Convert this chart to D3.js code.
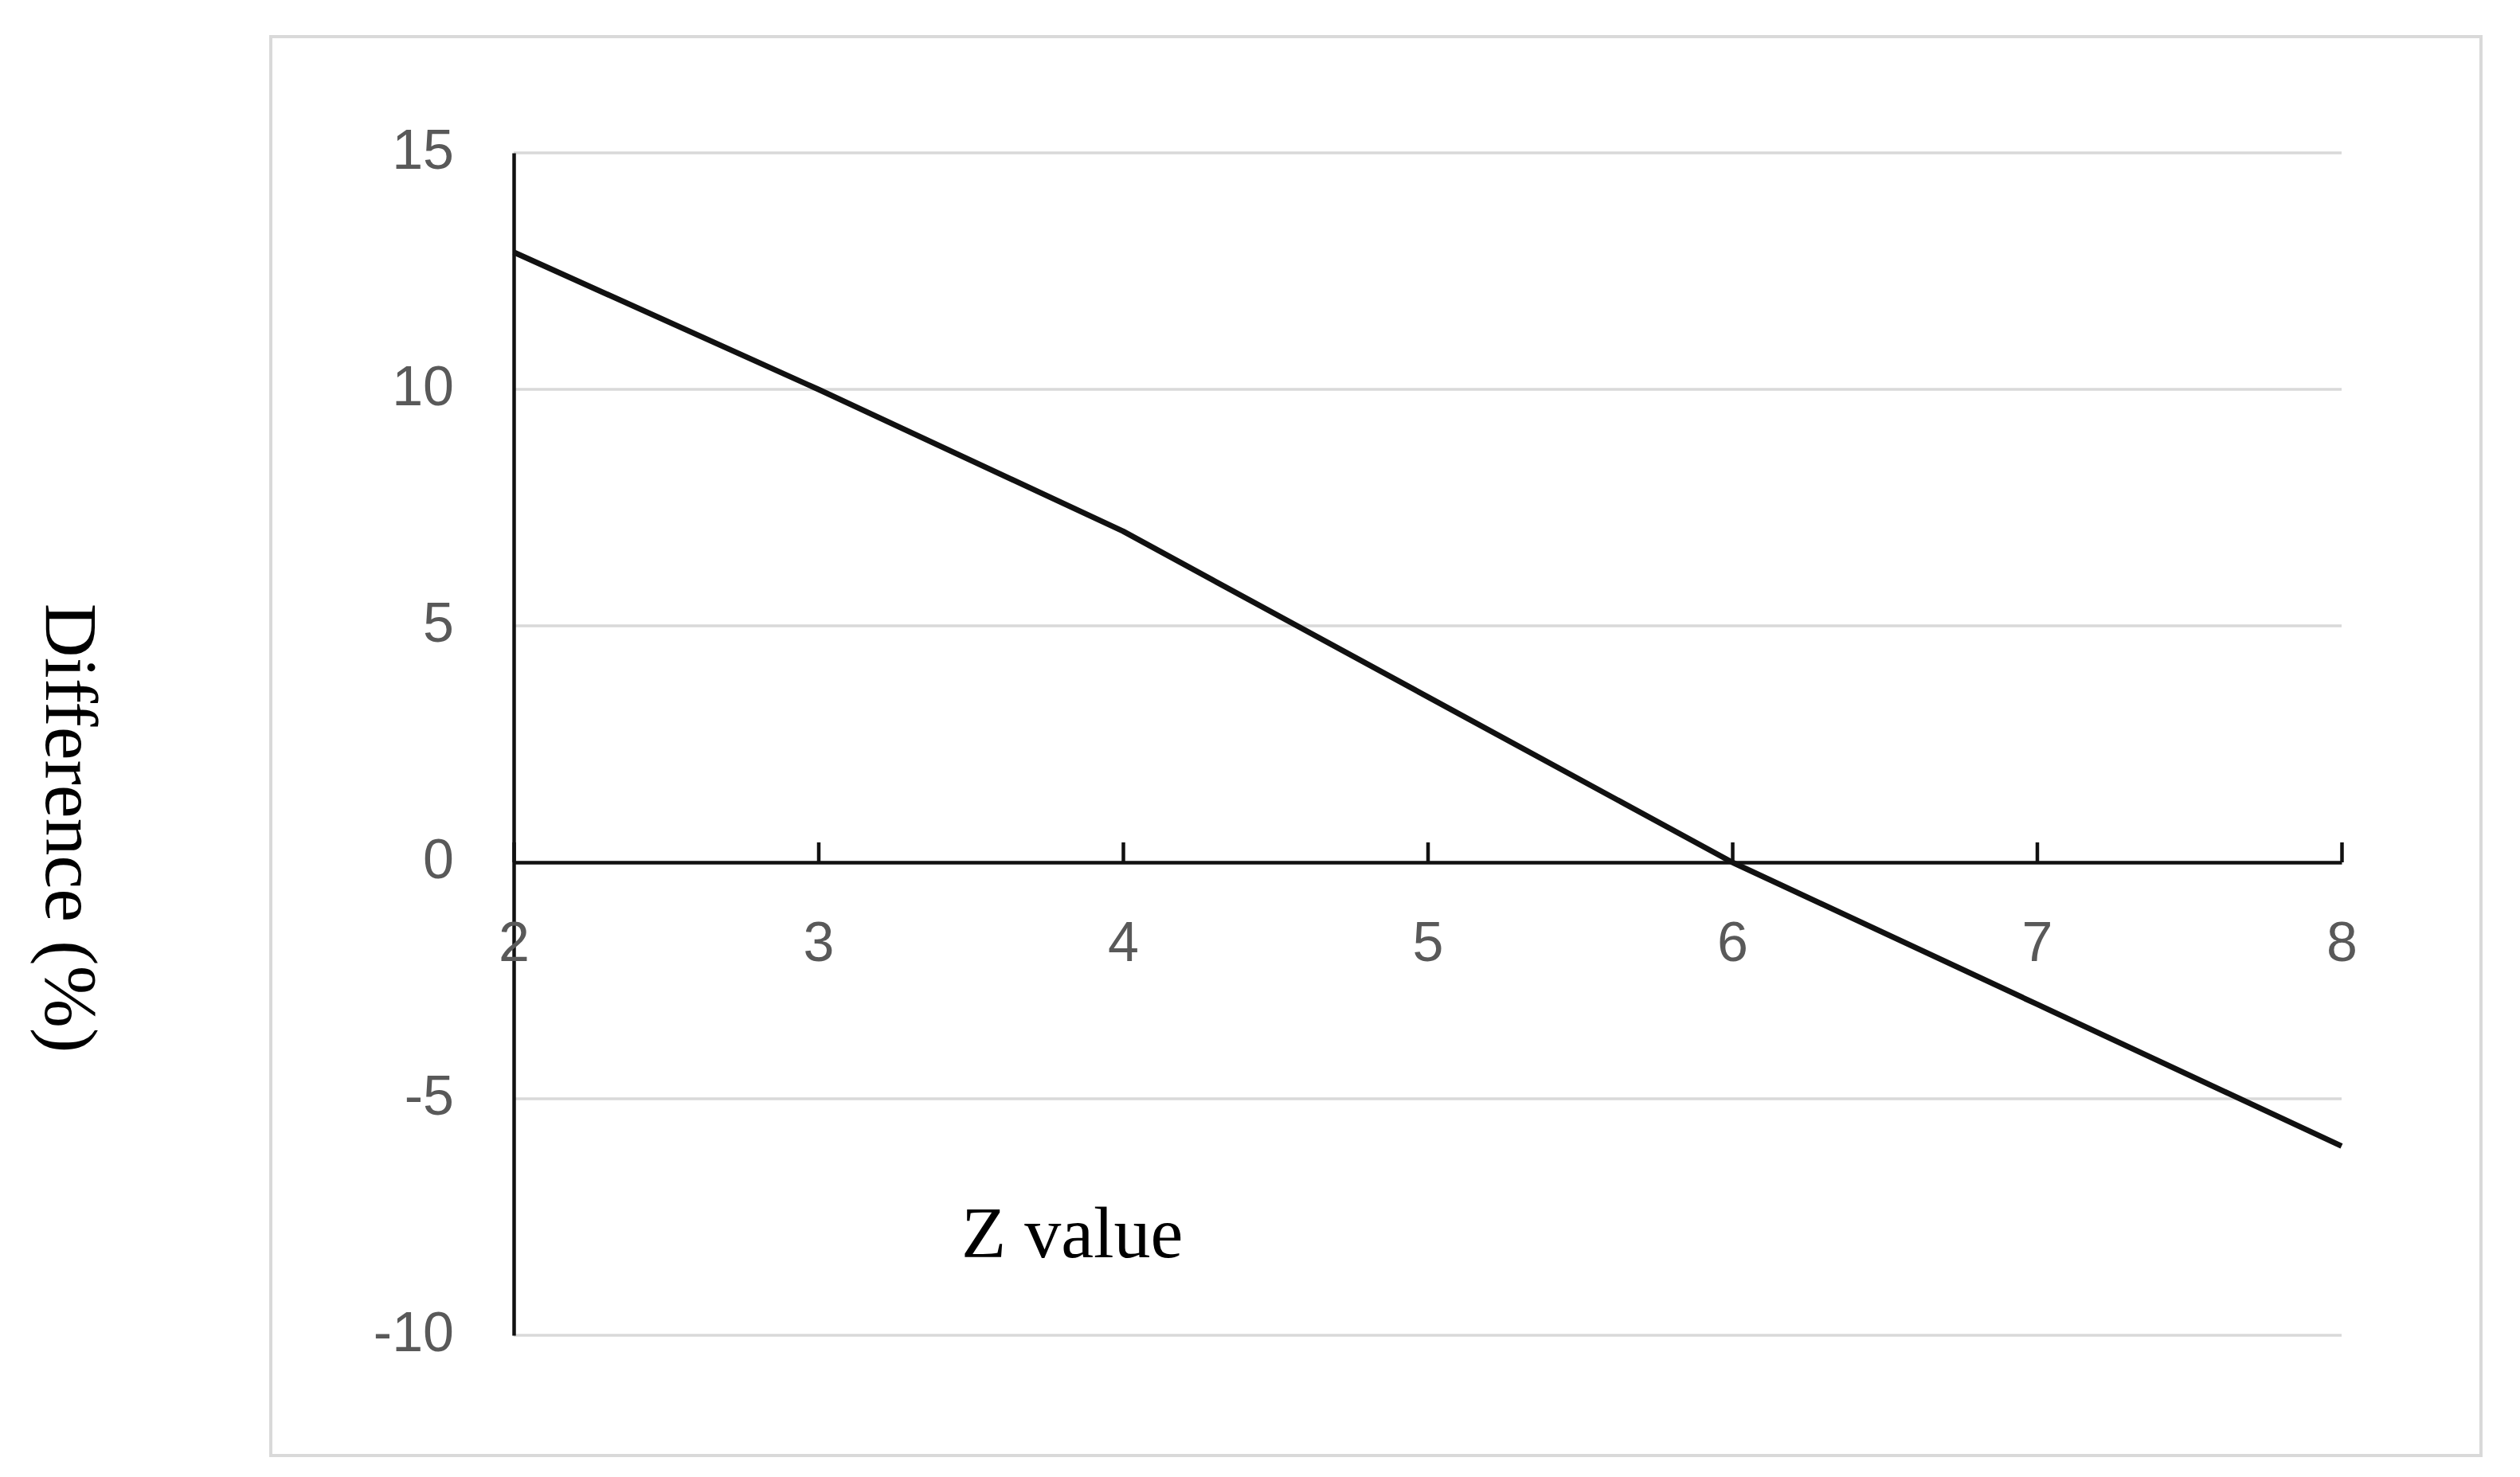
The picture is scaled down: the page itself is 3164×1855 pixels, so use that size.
<!DOCTYPE html>
<html>
<head>
<meta charset="utf-8">
<script src="https://cdn.jsdelivr.net/npm/d3@7"></script>
<style>
  body { margin: 0; background: #fff; }
  .tick text { font-family: "Liberation Sans", Arial, sans-serif; fill: #595959; }
  .title { font-family: "Liberation Serif", "Times New Roman", serif; fill: #000; }
</style>
</head>
<body>
<div id="chart"></div>
<script>
// chart data
var zValues = [2, 3, 4, 5, 6, 7, 8];
var difference = [12.9, 10, 7, 3.5, 0, -3, -6];
var yTicks = [-10, -5, 0, 5, 10, 15];
var xTicks = [2, 3, 4, 5, 6, 7, 8];

var W = 3164, H = 1855;
var margin = {top: 192, left: 645, right: 224, bottom: 178};
var width = W - margin.left - margin.right,
    height = H - margin.top - margin.bottom;

// plain hyphen for negatives, like the original
var fmt = function(d) { return String(d); };

var svg = d3.select("#chart").append("svg")
    .attr("width", W)
    .attr("height", H);

// outer frame
svg.append("rect")
    .attr("x", 340).attr("y", 46)
    .attr("width", 2775).attr("height", 1782)
    .attr("fill", "#fff")
    .attr("stroke", "#d9d9d9")
    .attr("stroke-width", 4);

var g = svg.append("g")
    .attr("transform", "translate(" + margin.left + "," + margin.top + ")");

var x = d3.scaleLinear().domain([2, 8]).range([0, width]);
var y = d3.scaleLinear().domain([-10, 15]).range([height, 0]);

// gridlines
g.selectAll(".grid")
    .data(yTicks)
  .enter().append("line")
    .attr("class", "grid")
    .attr("x1", 0).attr("x2", width)
    .attr("y1", function(d) { return y(d); })
    .attr("y2", function(d) { return y(d); })
    .attr("stroke", "#d9d9d9")
    .attr("stroke-width", 3.5);

// y axis
var yAxis = g.append("g")
    .call(d3.axisLeft(y).tickValues(yTicks).tickFormat(fmt).tickSize(0).tickPadding(75));
yAxis.select(".domain").attr("stroke", "#111").attr("stroke-width", 4.5);
yAxis.selectAll(".tick text")
    .style("font-size", "70px")
    .attr("dy", "0.28em");

// x axis along zero, ticks pointing up
var xAxis = g.append("g")
    .attr("transform", "translate(0," + y(0) + ")")
    .call(d3.axisBottom(x).tickValues(xTicks).tickFormat(fmt)
      .tickSizeInner(-25).tickSizeOuter(0).tickPadding(74));
xAxis.select(".domain").attr("stroke", "#111").attr("stroke-width", 4.5);
xAxis.selectAll(".tick line").attr("stroke", "#111").attr("stroke-width", 4.5);
xAxis.selectAll(".tick text").style("font-size", "70px");

// data line
var line = d3.line()
    .x(function(d, i) { return x(zValues[i]); })
    .y(function(d) { return y(d); });

g.append("path")
    .datum(difference)
    .attr("fill", "none")
    .attr("stroke", "#111")
    .attr("stroke-width", 7)
    .attr("stroke-linejoin", "round")
    .attr("d", line);

// axis titles
svg.append("text")
    .attr("class", "title")
    .attr("x", 1207).attr("y", 1579)
    .style("font-size", "92px")
    .text("Z value");

svg.append("text")
    .attr("class", "title")
    .attr("transform", "translate(58,1040) rotate(90)")
    .attr("text-anchor", "middle")
    .style("font-size", "94px")
    .text("Difference (%)");
</script>
</body>
</html>
